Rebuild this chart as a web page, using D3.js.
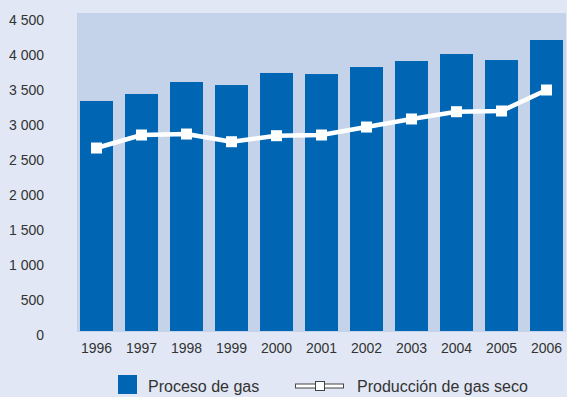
<!DOCTYPE html>
<html>
<head>
<meta charset="utf-8">
<script src="https://cdn.jsdelivr.net/npm/d3@7"></script>
<style>
  html, body { margin: 0; padding: 0; background: #e1e7f4; }
  svg { display: block; font-family: "Liberation Sans", Arial, sans-serif; }
  .tick text { fill: #333; }
</style>
</head>
<body>
<svg id="chart" width="567" height="397"></svg>
<script>
// Gas processing vs. dry gas production (millones de pies cúbicos diarios)
const years = ["1996", "1997", "1998", "1999", "2000", "2001", "2002", "2003", "2004", "2005", "2006"];
const procesoGas = [3286, 3386, 3557, 3514, 3686, 3671, 3771, 3857, 3957, 3871, 4157];
const gasSeco = [2614, 2800, 2814, 2704, 2790, 2800, 2914, 3029, 3133, 3143, 3443];
const yTicks = [0, 500, 1000, 1500, 2000, 2500, 3000, 3500, 4000, 4500];
const legendLabels = ["Proceso de gas", "Producción de gas seco"];

const W = 567, H = 397;
const plot = { left: 77, right: 566, top: 13 };
const barBlue = "#0066b3";
const textColor = "#333";

const svg = d3.select("#chart");

const x = d3.scaleBand()
  .domain(years)
  .range([80, 563])
  .paddingInner(12 / 45)
  .paddingOuter(0);

const y = d3.scaleLinear()
  .domain([0, 4500])
  .range([331, 16]);

const fmt = d3.formatLocale({ decimal: ",", thousands: "\u00a0", grouping: [3], currency: ["", ""] }).format(",d");

// Plot background panel
svg.append("rect")
  .attr("x", plot.left)
  .attr("y", plot.top)
  .attr("width", plot.right - plot.left)
  .attr("height", y(0) + 1 - plot.top)
  .attr("fill", "#c5d3ea");

// Bars
svg.append("g").selectAll("rect")
  .data(years.map((yr, i) => ({ yr, v: procesoGas[i] })))
  .join("rect")
  .attr("x", d => x(d.yr))
  .attr("y", d => y(d.v))
  .attr("width", x.bandwidth())
  .attr("height", d => y(0) - y(d.v))
  .attr("fill", barBlue);

// Line series
const pts = years.map((yr, i) => ({ yr, v: gasSeco[i] }));
const cx = d => x(d.yr) + x.bandwidth() / 2;

svg.append("path")
  .datum(pts)
  .attr("fill", "none")
  .attr("stroke", "#fff")
  .attr("stroke-width", 4.5)
  .attr("stroke-linejoin", "round")
  .attr("d", d3.line().x(cx).y(d => y(d.v)));

const mk = 11;
svg.append("g").selectAll("rect")
  .data(pts)
  .join("rect")
  .attr("x", d => cx(d) - mk / 2)
  .attr("y", d => y(d.v) - mk / 2)
  .attr("width", mk)
  .attr("height", mk)
  .attr("fill", "#fff");

// Y axis
const yAxis = svg.append("g")
  .attr("transform", "translate(44,0)")
  .call(d3.axisLeft(y).tickValues(yTicks).tickSize(0).tickPadding(0).tickFormat(fmt));
yAxis.select(".domain").remove();
yAxis.selectAll("text")
  .attr("font-size", 14)
  .attr("font-family", "'Liberation Sans', Arial, sans-serif")
  .attr("fill", textColor)
  .attr("dy", "0.32em")
  .attr("y", 4);

// X axis
const xAxis = svg.append("g")
  .attr("transform", `translate(0,${y(0)})`)
  .call(d3.axisBottom(x).tickSize(0).tickPadding(0));
xAxis.select(".domain").remove();
xAxis.selectAll("text")
  .attr("font-size", 14)
  .attr("font-family", "'Liberation Sans', Arial, sans-serif")
  .attr("fill", textColor)
  .attr("y", 22)
  .attr("dy", 0);

// Legend
const leg = svg.append("g");
leg.append("rect")
  .attr("x", 118).attr("y", 375)
  .attr("width", 19).attr("height", 19)
  .attr("fill", barBlue);
leg.append("text")
  .attr("x", 148).attr("y", 392)
  .attr("font-size", 16)
  .attr("fill", textColor)
  .text(legendLabels[0]);

leg.append("rect")
  .attr("x", 295.5).attr("y", 384)
  .attr("width", 48).attr("height", 4)
  .attr("fill", "#fff")
  .attr("stroke", "#444")
  .attr("stroke-width", 1);
leg.append("rect")
  .attr("x", 315.5).attr("y", 381.5)
  .attr("width", 9).attr("height", 9)
  .attr("fill", "#fff")
  .attr("stroke", "#444")
  .attr("stroke-width", 1);
leg.append("text")
  .attr("x", 357).attr("y", 392)
  .attr("font-size", 16)
  .attr("fill", textColor)
  .text(legendLabels[1]);
</script>
</body>
</html>
